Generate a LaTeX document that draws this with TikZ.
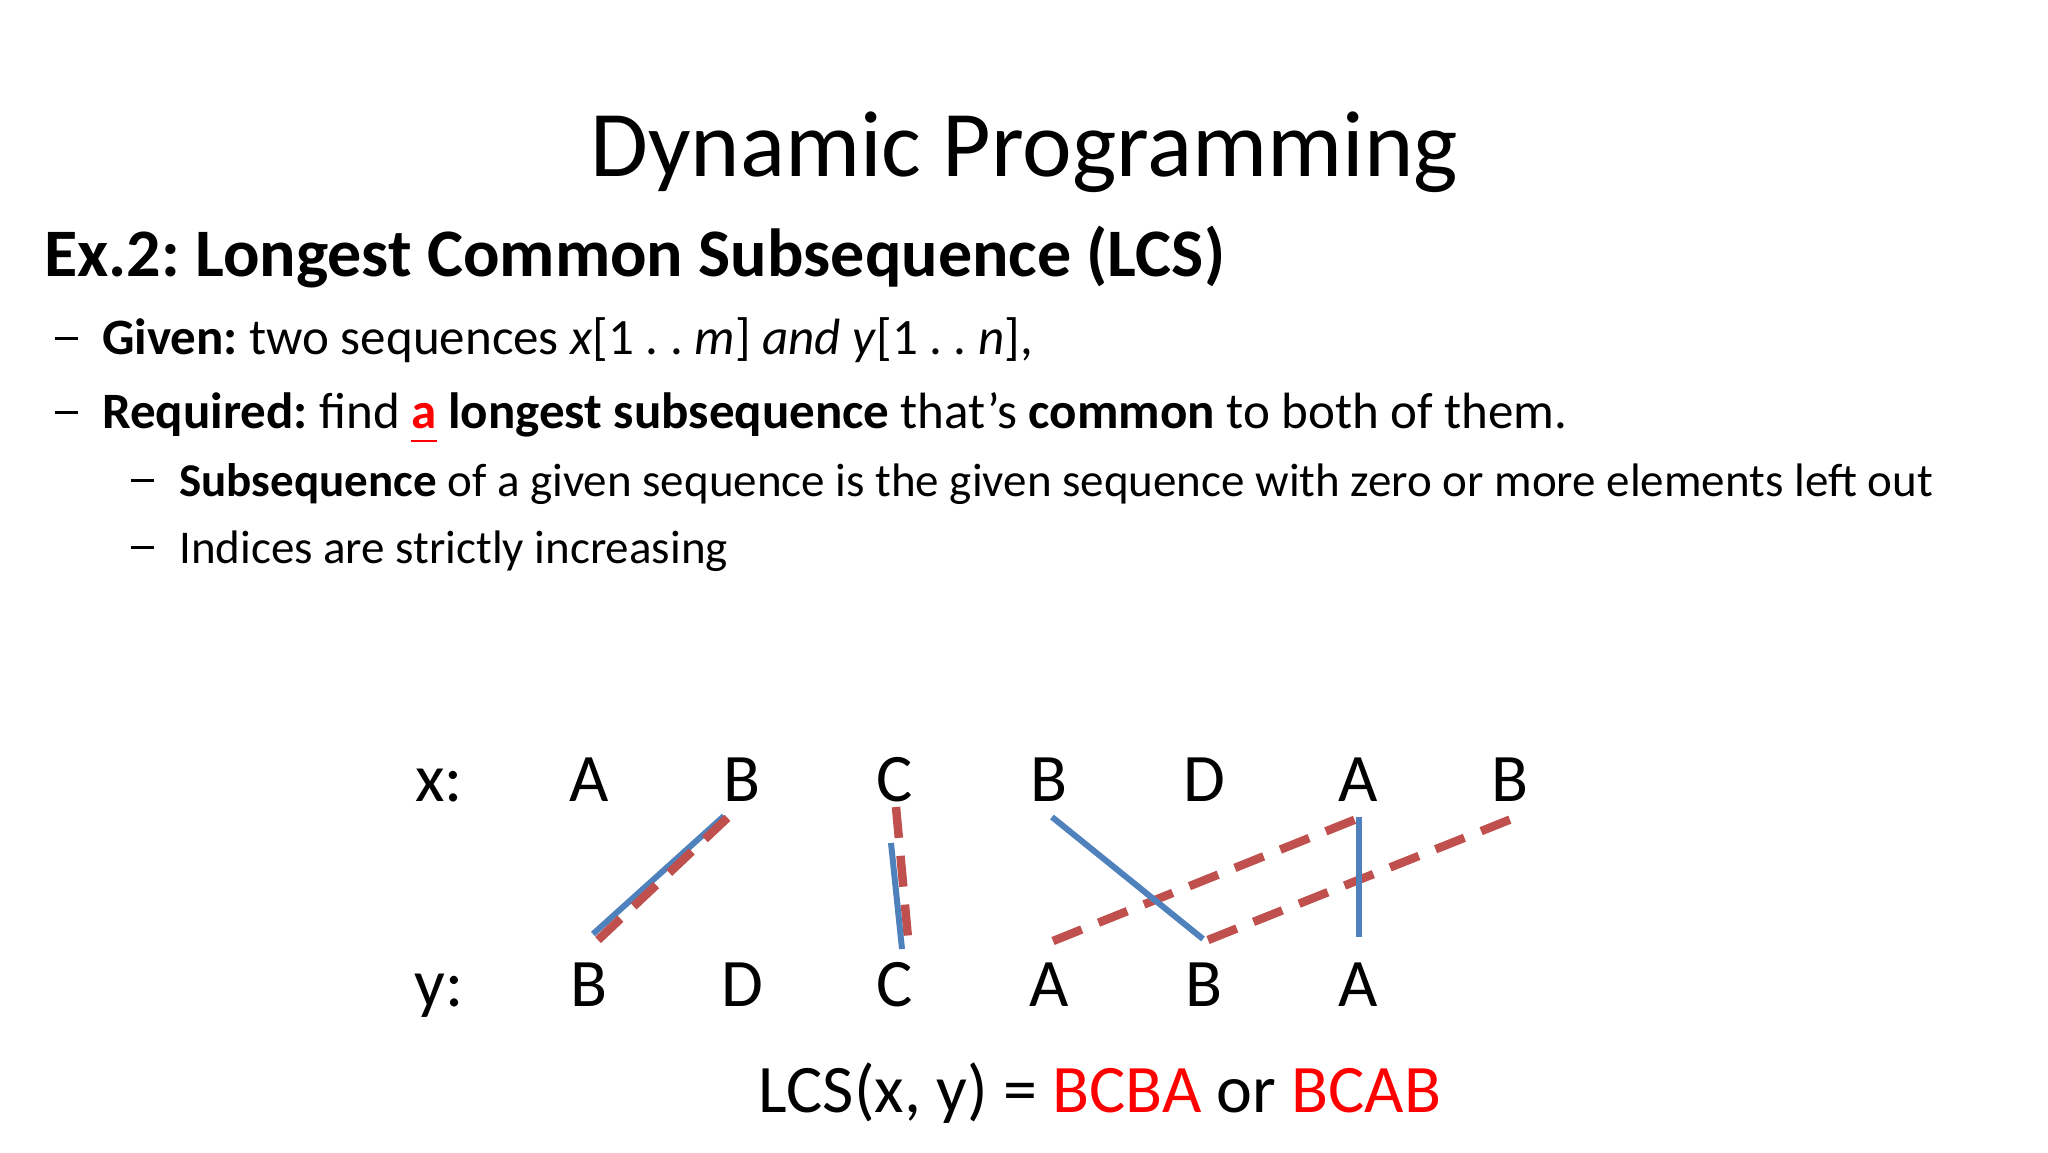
\documentclass[tikz,border=0pt]{standalone}
\usepackage{fontspec}
\setmainfont{Carlito}

\definecolor{lineblue}{HTML}{4F81BD}
\definecolor{linered}{HTML}{C0504D}
\newcommand{\redul}[1]{\textcolor{red}{\setbox0\hbox{#1}\rlap{\rule[-14pt]{\wd0}{2.5pt}}\box0}}
\newcommand{\itemdash}[1]{\makebox[#1][l]{\rule[14pt]{23pt}{3.5pt}}}
\frenchspacing

\begin{document}
\begin{tikzpicture}[x=1pt, y=-1pt, every node/.style={inner sep=0pt, anchor=base west},
	titletext/.style={font=\fontsize{94}{110}\selectfont, anchor=base},
	headtext/.style={font=\bfseries\fontsize{68}{80}\selectfont},
	levelone/.style={font=\fontsize{51}{60}\selectfont},
	leveltwo/.style={font=\fontsize{47}{56}\selectfont},
	letter/.style={font=\fontsize{68}{80}\selectfont, anchor=base},
	blueline/.style={lineblue, line width=6pt},
	redline/.style={linered, line width=8.5pt, dash pattern=on 31pt off 18pt}]
	\fill[white] (0,0) rectangle (2048,1152);
	\useasboundingbox (0,0) rectangle (2048,1152);
	% slide text
	\node[titletext] (title) at (1024,176) {Dynamic Programming};
	\node[headtext] (head) at (44,276) {Ex.2: Longest Common Subsequence (LCS)};
	\node[levelone] (given) at (55,354) {\itemdash{47pt}\textbf{Given:} two sequences \textit{x}[1 . . \textit{m}] \textit{and y}[1 . . \textit{n}],};
	\node[levelone] (req) at (55,428) {\itemdash{47pt}\textbf{Required:} find \textbf{\redul{a}} \textbf{longest subsequence} that’s \textbf{common} to both of them.};
	\node[leveltwo] (subseq) at (131,496) {\itemdash{48pt}\textbf{Subsequence} of a given sequence is the given sequence with zero or more elements left out};
	\node[leveltwo] (indices) at (131,563) {\itemdash{48pt}Indices are strictly increasing};
	% sequence x
	\node[letter] (xlab) at (439,801) {x:};
	\node[letter] (x1) at (589,801) {A};
	\node[letter] (x2) at (742,801) {B};
	\node[letter] (x3) at (895,801) {C};
	\node[letter] (x4) at (1049,801) {B};
	\node[letter] (x5) at (1204,801) {D};
	\node[letter] (x6) at (1358,801) {A};
	\node[letter] (x7) at (1510,801) {B};
	% sequence y
	\node[letter] (ylab) at (439,1006) {y:};
	\node[letter] (y1) at (589,1006) {B};
	\node[letter] (y2) at (742,1006) {D};
	\node[letter] (y3) at (895,1006) {C};
	\node[letter] (y4) at (1049,1006) {A};
	\node[letter] (y5) at (1204,1006) {B};
	\node[letter] (y6) at (1358,1006) {A};
	% matches
	\draw[blueline] ([shift={(4,-72)}]y1.base) -- ([shift={(-18,15)}]x2.base);
	\draw[redline] ([shift={(9,-66)}]y1.base) -- ([shift={(-2,5)}]x2.base);
	\draw[redline] ([shift={(1,6)}]x3.base) -- ([shift={(13,-68)}]y3.base);
	\draw[blueline] ([shift={(-4,42)}]x3.base) -- ([shift={(7,-57)}]y3.base);
	\draw[redline] ([shift={(4,-65)}]y4.base) -- ([shift={(1,17)}]x6.base);
	\draw[redline] ([shift={(4,-66)}]y5.base) -- ([shift={(4,17)}]x7.base);
	\draw[blueline] ([shift={(3,16)}]x4.base) -- ([shift={(-1,-67)}]y5.base);
	\draw[blueline] ([shift={(1,16)}]x6.base) -- ([shift={(1,-69)}]y6.base);
	\node[letter] (lcs) at (1100,1112) {LCS(x, y) = \textcolor{red}{BCBA} or \textcolor{red}{BCAB}};
\end{tikzpicture}
\end{document}
